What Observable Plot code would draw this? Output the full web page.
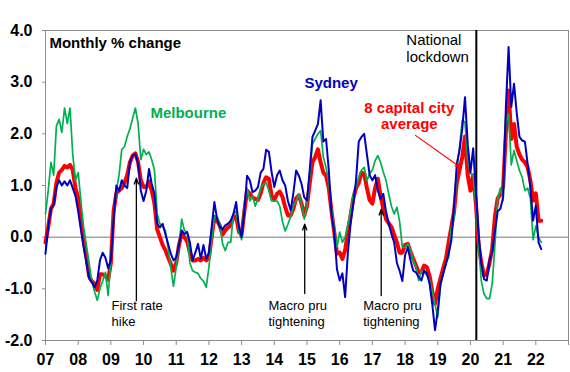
<!DOCTYPE html>
<html><head><meta charset="utf-8">
<script src="https://cdn.jsdelivr.net/npm/d3@7"></script>
<script src="https://cdn.jsdelivr.net/npm/@observablehq/plot@0.6"></script>
<style>
html,body{margin:0;padding:0;background:#fff;}
#chart svg{display:block;}
</style></head><body><div id="chart"></div>
<script>
// Monthly % change, Jan 2007 .. Mar 2022
const startYear = 2007;
const sydney = [
 -0.32, 0.2, 0.55, 0.62, 0.97, 1.1, 1.0, 1.08, 1.0, 1.1, 0.95, 0.8,
 0.5, 0.15, -0.2, -0.5, -0.8, -0.87, -0.97, -0.84, -0.45, -0.3, -0.4, -0.6,
 -0.45, 0.35, 1.0, 0.9, 1.1, 1.0, 0.95, 1.45, 1.58, 1.61, 1.42, 0.9,
 0.7, 0.9, 1.32, 1.03, 0.84, 0.26, 0.19, 0.26, 0.06, -0.13, -0.32, -0.45,
 -0.39, -0.15, 0.13, 0.06, 0.1, -0.1, -0.45, -0.3, -0.13, -0.42, -0.15, -0.42,
 -0.3, 0.19, 0.68, 0.35, 0.2, 0.15, 0.23, 0.26, 0.32, 0.45, 0.68, 0.2,
 0.0, 0.5, 1.19, 1.1, 0.87, 0.9, 0.97, 1.25, 1.32, 1.69, 1.65, 1.26,
 0.97, 1.2, 1.29, 1.1, 1.0, 0.7, 0.52, 0.85, 1.29, 1.19, 1.03, 0.77,
 0.71, 1.3, 1.94, 2.06, 2.19, 2.65, 1.85, 1.9, 1.3, 0.45, 0.1, -0.62,
 -0.84, -0.7, -1.16, -0.3, 0.25, 0.65, 1.1, 1.85, 1.94, 2.0, 1.6, 1.2,
 1.1, 1.2, 0.9, 0.74, 0.84, 0.5, 0.26, 0.06, -0.1, -0.5, -0.65, -0.85,
 -0.35, -0.2, -0.45, -0.65, -0.68, -0.77, -0.84, -0.65, -0.7, -0.9, -1.3, -1.8,
 -1.42, -0.9, -0.71, -0.52, -0.32, -0.06, 0.6, 1.42, 1.68, 2.1, 2.71, 1.8,
 1.25, 1.72, 0.9, 0.05, -0.52, -0.81, -0.84, -0.45, -0.29, 0.12, 0.5, 0.55,
 0.77, 2.5, 3.68, 2.52, 2.97, 2.4, 1.94, 1.87, 1.85, 1.42, 0.97, 0.32,
 0.61, -0.1, -0.23
];
const melbourne = [
 0.45, 0.9, 1.45, 1.2, 2.15, 2.28, 2.03, 2.5, 2.2, 2.5, 1.6, 1.1,
 1.25, 0.7, 0.2, -0.15, -0.5, -0.85, -1.05, -1.22, -1.0, -0.85, -0.68, -1.13,
 -0.45, 0.4, 0.9, 1.2, 1.7, 1.75, 1.95, 2.1, 2.3, 2.5, 2.2, 1.5,
 1.7, 1.6, 1.65, 1.5, 1.3, 0.45, 0.26, 0.2, 0.13, -0.2, -0.6, -0.95,
 -0.58, -0.15, 0.35, 0.13, 0.1, -0.5, -0.65, -0.68, -0.7, -0.8, -0.85, -0.97,
 -0.58, -0.05, 0.39, 0.4, 0.26, -0.13, -0.26, -0.1, -0.1, 0.45, 0.5, 0.1,
 -0.05, 0.65, 0.95, 0.7, 0.8, 0.6, 0.75, 0.95, 1.03, 1.05, 0.9, 0.7,
 0.7, 0.7, 0.6, 0.3, 0.12, 0.25, 0.4, 0.6, 0.7, 0.84, 0.65, 0.35,
 0.6, 1.2, 1.8, 1.9, 2.0, 2.06, 1.55, 1.35, 1.05, 0.55, 0.2, -0.2,
 0.1, -0.1, 0.0, 0.25, 0.5, 0.84, 0.97, 1.16, 1.3, 1.35, 1.1, 1.23,
 1.3, 1.48, 1.58, 1.45, 1.26, 1.1, 0.84, 0.6, 0.45, 0.58, 0.3, -0.2,
 -0.19, -0.13, -0.25, -0.45, -0.58, -0.84, -0.65, -0.68, -0.74, -0.84, -1.05, -1.3,
 -1.55, -0.95, -0.72, -0.5, -0.39, 0.2, 0.35, 1.3, 1.75, 2.26, 2.23, 1.5,
 1.23, 1.2, 0.65, -0.15, -0.85, -1.1, -1.19, -1.19, -0.9, -0.15, 0.75, 0.95,
 0.71, 2.2, 2.39, 1.4, 1.68, 1.48, 1.29, 1.16, 0.9, 0.95, 0.75, -0.05,
 0.22, 0.0, -0.1
];
const capitals = [
 -0.1, 0.2, 0.55, 0.65, 1.05, 1.25, 1.3, 1.38, 1.35, 1.4, 1.3, 0.95,
 0.77, 0.3, -0.05, -0.35, -0.75, -0.85, -0.9, -1.02, -0.72, -0.72, -0.75, -0.82,
 -0.5, 0.5, 0.85, 0.9, 0.95, 1.05, 1.2, 1.45, 1.58, 1.62, 1.45, 1.1,
 0.97, 0.97, 1.08, 0.9, 0.65, 0.15, 0.0, -0.15, -0.25, -0.39, -0.52, -0.65,
 -0.5, -0.15, 0.06, 0.0, -0.08, -0.3, -0.45, -0.45, -0.42, -0.45, -0.4, -0.45,
 -0.4, 0.0, 0.39, 0.32, 0.22, 0.05, 0.13, 0.19, 0.23, 0.39, 0.4, 0.1,
 0.05, 0.5, 0.9, 0.84, 0.77, 0.74, 0.72, 0.85, 1.05, 1.16, 1.13, 0.8,
 0.72, 0.84, 0.88, 0.78, 0.58, 0.42, 0.42, 0.55, 0.75, 0.81, 0.65, 0.42,
 0.6, 1.05, 1.45, 1.55, 1.7, 1.45, 1.25, 1.19, 0.95, 0.5, 0.1, -0.32,
 -0.3, -0.42, -0.25, 0.1, 0.42, 0.75, 0.95, 1.05, 1.25, 1.23, 0.95, 0.72,
 0.65, 0.95, 1.13, 0.8, 0.55, 0.35, 0.27, 0.2, 0.05, -0.1, -0.3, -0.3,
 -0.15, -0.13, -0.28, -0.42, -0.55, -0.68, -0.68, -0.55, -0.58, -0.75, -1.05, -1.29,
 -1.0, -0.8, -0.6, -0.42, -0.1, 0.2, 0.5, 1.05, 1.3, 1.55, 1.95, 1.2,
 0.9, 1.2, 0.65, -0.15, -0.5, -0.74, -0.72, -0.5, -0.22, 0.4, 0.75, 0.84,
 0.97, 2.0, 2.84, 1.9, 2.19, 1.75, 1.6, 1.5, 1.45, 1.35, 1.1, 0.71,
 0.85, 0.32, 0.32
];
const yTicks = [-2, -1, 0, 1, 2, 3, 4];
const xTicks = [2007, 2008, 2009, 2010, 2011, 2012, 2013, 2014, 2015, 2016, 2017, 2018, 2019, 2020, 2021, 2022, 2023];
const xTickLabels = ["07","08","09","10","11","12","13","14","15","16","17","18","19","20","21","22",""];
const seriesNames = ["8 capital city\naverage", "Melbourne", "Sydney"];
const lockdownDate = [2020.18];

const xOf = (d, i) => startYear + i / 12;
const font = "'Liberation Sans', Arial, sans-serif";

const chart = Plot.plot({
  width: 570, height: 372,
  marginLeft: 45, marginRight: 2, marginTop: 30, marginBottom: 32,
  style: {fontFamily: font, background: "#fff", color: "#000"},
  x: {domain: [2007, 2023]},
  y: {domain: [-2, 4]},
  marks: [
    Plot.frame({stroke: "#8c8c8c"}),
    Plot.ruleY([0], {stroke: "#777"}),
    Plot.axisX({ticks: xTicks, tickFormat: (d) => xTickLabels[xTicks.indexOf(d)], tickSize: 5, tickPadding: 8,
      fontSize: 16, fontWeight: "bold", stroke: "#8c8c8c", fill: "#000", label: null}),
    Plot.axisY({ticks: yTicks, tickFormat: d => d.toFixed(1), tickSize: 3, tickPadding: 10,
      fontSize: 16, fontWeight: "bold", stroke: "#8c8c8c", fill: "#000", label: null}),
    Plot.ruleX(lockdownDate, {stroke: "#000", strokeWidth: 2}),
    Plot.line(capitals, {x: xOf, y: d => d, stroke: "#ff0000", strokeWidth: 4}),
    Plot.line(melbourne, {x: xOf, y: d => d, stroke: "#00b050", strokeWidth: 1.7}),
    Plot.line(sydney, {x: xOf, y: d => d, stroke: "#0000c0", strokeWidth: 2}),
    // annotations
    Plot.text(["Monthly % change"], {x: 2007.12, y: 3.67, text: d => d, textAnchor: "start", lineAnchor: "bottom", fontSize: 15, fontWeight: "bold", fill: "#000"}),
    Plot.text([seriesNames[1]], {x: 2010.21, y: 2.30, text: d => d, textAnchor: "start", lineAnchor: "bottom", fontSize: 15, fontWeight: "bold", fill: "#00b050"}),
    Plot.text([seriesNames[2]], {x: 2014.92, y: 2.88, text: d => d, textAnchor: "start", lineAnchor: "bottom", fontSize: 15, fontWeight: "bold", fill: "#0000c0"}),
    Plot.text([seriesNames[0]], {x: 2018.13, y: 2.085, text: d => d, textAnchor: "middle", lineAnchor: "bottom", lineHeight: 1.13, fontSize: 15, fontWeight: "bold", fill: "#ff0000"}),
    Plot.arrow([0], {x1: 2018.32, y1: 1.97, x2: 2019.70, y2: 1.35, stroke: "#ff0000", strokeWidth: 1.2, headLength: 7, headAngle: 40}),
    Plot.text(["National\nlockdown"], {x: 2018.04, y: 3.40, text: d => d, textAnchor: "start", lineAnchor: "bottom", lineHeight: 1.1, fontSize: 15, fill: "#000"}),
    Plot.text(["First rate\nhike"], {x: 2009.02, y: -1.71, text: d => d, textAnchor: "start", lineAnchor: "bottom", lineHeight: 1.18, fontSize: 13, fill: "#000"}),
    Plot.text(["Macro pru\ntightening"], {x: 2013.82, y: -1.71, text: d => d, textAnchor: "start", lineAnchor: "bottom", lineHeight: 1.18, fontSize: 13, fill: "#000"}),
    Plot.text(["Macro pru\ntightening"], {x: 2016.72, y: -1.71, text: d => d, textAnchor: "start", lineAnchor: "bottom", lineHeight: 1.18, fontSize: 13, fill: "#000"}),
    Plot.arrow([0], {x1: 2009.78, y1: -1.23, x2: 2009.78, y2: 1.14, stroke: "#000", strokeWidth: 1.3, headLength: 7, headAngle: 40}),
    Plot.arrow([0], {x1: 2014.93, y1: -1.09, x2: 2014.93, y2: 0.25, stroke: "#000", strokeWidth: 1.3, headLength: 7, headAngle: 40}),
    Plot.arrow([0], {x1: 2017.27, y1: -1.13, x2: 2017.27, y2: 0.54, stroke: "#000", strokeWidth: 1.3, headLength: 7, headAngle: 40})
  ]
});
document.getElementById("chart").appendChild(chart);
</script>
</body></html>
